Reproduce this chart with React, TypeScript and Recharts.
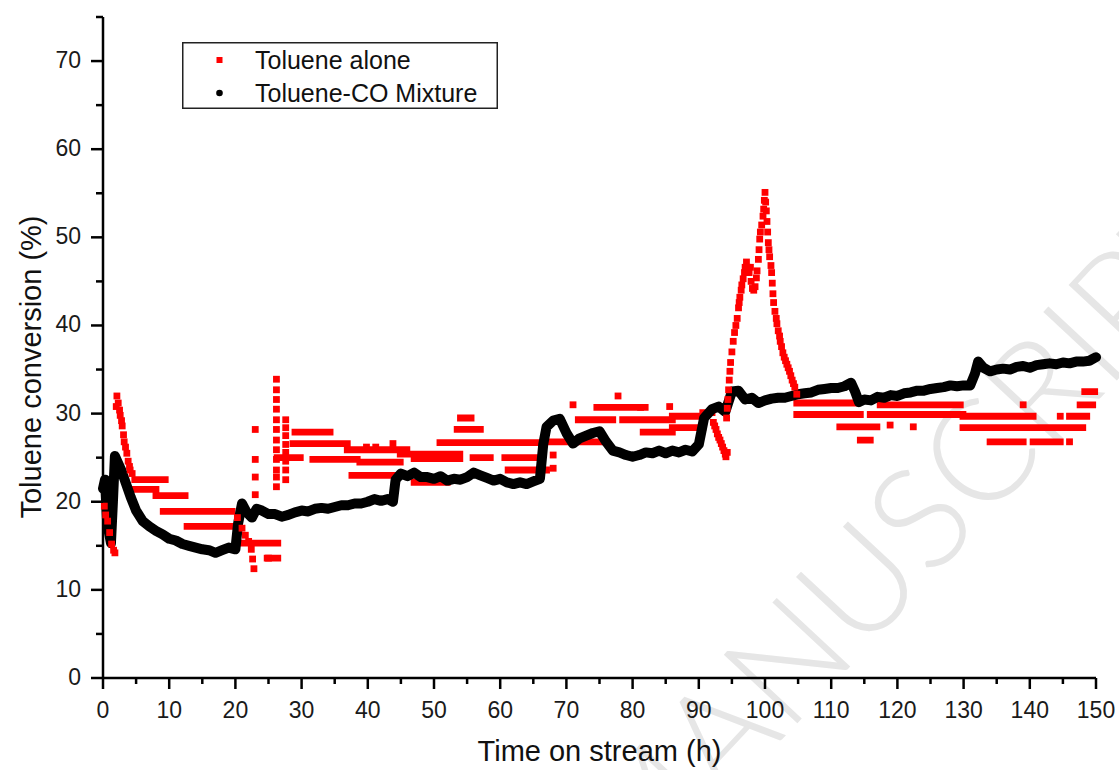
import React from "react";
import { ComposedChart, Line, Scatter, XAxis, YAxis, Legend } from "recharts";

const xTicks = [0, 5, 10, 15, 20, 25, 30, 35, 40, 45, 50, 55, 60, 65, 70, 75, 80, 85, 90, 95, 100, 105, 110, 115, 120, 125, 130, 135, 140, 145, 150];
const yTicks = [0, 5, 10, 15, 20, 25, 30, 35, 40, 45, 50, 55, 60, 65, 70, 75];

// Toluene-CO Mixture, [time h, conversion %]
const mixture: [number, number][] = [
  [0, 21.5], [0.3, 22.5], [0.6, 18], [0.9, 16.5], [1.2, 15.3], [1.5, 20], [1.8, 25.2],
  [2.2, 24.5], [2.8, 23.5], [3.5, 22], [4.2, 20.5], [5, 19], [6, 17.8], [7, 17.2],
  [8, 16.7], [9, 16.3], [10, 15.8], [11, 15.6], [12, 15.2], [13, 15.0], [14, 14.8],
  [15, 14.6], [16, 14.5], [17, 14.2], [18, 14.5], [19, 14.8], [20, 14.6], [20.4, 17.5],
  [21, 19.8], [21.7, 18.8], [22.5, 18.2], [23.2, 19.2], [24, 19.0], [25, 18.6], [26, 18.6],
  [27, 18.3], [28, 18.5], [29, 18.8], [30, 19.0], [31, 18.9], [32, 19.2], [33, 19.3],
  [34, 19.2], [35, 19.4], [36, 19.6], [37, 19.6], [38, 19.8], [39, 19.8], [40, 20.0],
  [41, 20.3], [42, 20.1], [43, 20.3], [43.8, 20.0], [44.2, 22.5], [45, 23.2], [46, 22.9],
  [47, 23.3], [48, 22.8], [49, 22.8], [50, 22.6], [51, 22.9], [52, 22.4], [53, 22.6],
  [54, 22.5], [55, 22.8], [56, 23.3], [57, 23.0], [58, 22.7], [59, 22.4], [60, 22.6],
  [61, 22.2], [62, 22.0], [63, 22.2], [64, 22.0], [65, 22.3], [66, 22.6], [66.5, 26.5],
  [67, 28.5], [68, 29.2], [69, 29.4], [70, 27.8], [71, 26.6], [72, 27.2], [73, 27.5],
  [74, 27.8], [75, 28.0], [76, 26.8], [77, 25.8], [78, 25.6], [79, 25.3], [80, 25.1],
  [81, 25.3], [82, 25.6], [83, 25.5], [84, 25.8], [85, 25.5], [86, 25.8], [87, 25.6],
  [88, 25.9], [89, 25.7], [90, 26.5], [90.8, 29.5], [92, 30.5], [93, 30.8], [94, 30.2],
  [95, 32.5], [96, 32.6], [97, 31.6], [98, 31.8], [99, 31.2], [100, 31.5], [101, 31.7],
  [102, 31.8], [103, 31.8], [104, 32.0], [105, 32.2], [106, 32.3], [107, 32.4], [108, 32.7],
  [109, 32.8], [110, 32.9], [111, 32.9], [112, 33.1], [113, 33.5], [113.6, 32.5], [114.2, 31.3],
  [115, 31.6], [116, 31.5], [117, 31.9], [118, 31.8], [119, 32.1], [120, 32.0], [121, 32.3],
  [122, 32.4], [123, 32.6], [124, 32.6], [125, 32.8], [126, 32.9], [127, 33.0], [128, 33.2],
  [129, 33.1], [130, 33.2], [131, 33.2], [131.7, 34.5], [132.2, 35.9], [133, 35.2], [134, 34.8],
  [135, 35.0], [136, 35.1], [137, 35.0], [138, 35.3], [139, 35.4], [140, 35.2], [141, 35.5],
  [142, 35.6], [143, 35.7], [144, 35.6], [145, 35.8], [146, 35.7], [147, 35.9], [148, 35.9],
  [149, 36.0], [150, 36.4],
];

// Toluene alone: runs of points sitting at one level, [from h, to h, conversion %]
const aloneRuns: [number, number, number][] = [
  [4.8, 9.4, 22.5], [4.4, 8.0, 21.4], [8.0, 12.4, 20.7], [9.1, 19.5, 18.9], [12.7, 20.0, 17.2],
  [21.0, 26.4, 15.3], [24.8, 26.4, 13.6], [26.3, 29.8, 25.0], [28.7, 36.9, 26.6], [29.0, 34.3, 27.9],
  [31.7, 38.4, 24.8], [36.9, 45.9, 25.9], [37.6, 44.0, 23.0], [38.8, 44.9, 24.5], [44.9, 53.9, 25.4],
  [47.0, 53.9, 24.9], [47.0, 52.0, 22.2], [50.9, 58.5, 26.7], [53.5, 57.0, 28.2], [54.0, 55.6, 29.5],
  [55.9, 58.5, 25.0], [54.7, 66.0, 26.7], [60.7, 66.0, 25.0], [61.2, 67.0, 23.6], [67.5, 76.0, 26.8],
  [71.8, 77.0, 29.3], [74.6, 81.9, 30.7], [78.5, 84.1, 29.3], [81.6, 86.0, 27.9], [86.0, 90.6, 28.4],
  [81.0, 86.0, 29.3], [86.0, 90.6, 29.7], [90.6, 92.0, 30.1], [104.8, 113.9, 31.2], [104.8, 114.4, 29.9],
  [111.3, 116.9, 28.5], [114.4, 115.9, 27.0], [115.9, 129.9, 29.9], [117.4, 129.5, 31.0], [129.9, 137.0, 29.7],
  [129.9, 148.0, 28.4], [134.0, 139.0, 26.8], [140.5, 144.6, 26.8], [138.0, 140.5, 29.7], [146.0, 148.6, 29.7],
  [147.6, 149.5, 31.0], [148.3, 149.8, 32.5],
];

// Toluene alone: single points (spikes and transitions), [time h, conversion %]
const alonePoints: [number, number][] = [
  [0.2, 19.5], [0.4, 18.5], [0.7, 17.8], [1.0, 16.5], [1.3, 15.2], [1.6, 14.5], [1.8, 14.2],
  [2.0, 30.8], [2.1, 32.0], [2.3, 31.2], [2.5, 30.4], [2.6, 29.8], [2.8, 29.2], [2.9, 28.6], [3.1, 27.6],
  [3.2, 26.8], [3.4, 26.2], [3.6, 25.5], [3.8, 24.6], [4.0, 24.0], [4.1, 23.6], [4.4, 23.2],
  [20.3, 18.2], [21.0, 17.0], [21.5, 16.2], [22.0, 15.5], [22.4, 14.6], [22.6, 13.5], [22.8, 12.4],
  [23.0, 20.8], [23.0, 22.8], [23.0, 24.8], [23.0, 28.2], [25.0, 13.6],
  [26.2, 33.9], [26.2, 32.7], [26.2, 31.6], [26.2, 30.5], [26.2, 29.3], [26.2, 28.2], [26.2, 27.0],
  [26.2, 25.9], [26.2, 24.8], [26.2, 23.6], [26.2, 22.8], [26.2, 21.7],
  [27.6, 29.3], [27.6, 28.4], [27.6, 27.5], [27.6, 26.5], [27.6, 25.6], [27.6, 24.6], [27.6, 23.6], [27.6, 22.5],
  [39.8, 26.2], [41.2, 26.2], [43.8, 26.6], [68.0, 25.3], [68.0, 23.8], [71.0, 31.0], [77.8, 32.0],
  [81.2, 30.7], [85.6, 30.8],
  [92.2, 29.0], [92.4, 28.6], [92.6, 28.2], [92.8, 27.7], [93.0, 27.3], [93.2, 27.0], [93.4, 26.6],
  [93.6, 26.2], [93.8, 25.8], [94.0, 25.4], [94.1, 25.1], [94.3, 25.6],
  [94.2, 29.5], [94.3, 30.6], [94.4, 31.6], [94.5, 32.7], [94.6, 33.8], [94.7, 34.8], [94.8, 35.8],
  [95.0, 37.0], [95.2, 38.2], [95.4, 39.2], [95.6, 40.0], [95.8, 40.8], [96.0, 42.0], [96.1, 42.6],
  [96.2, 43.2], [96.4, 44.0], [96.5, 44.6], [96.7, 45.3], [96.9, 46.0], [97.0, 46.6], [97.2, 47.2],
  [97.4, 46.6], [97.6, 46.0], [97.8, 46.6], [97.9, 45.0], [98.1, 44.2], [98.3, 44.0], [98.5, 44.4],
  [98.7, 45.4], [98.8, 46.2], [99.0, 47.5], [99.1, 48.6], [99.2, 49.8], [99.3, 50.6], [99.5, 51.4],
  [99.7, 52.4], [99.8, 53.2], [99.9, 54.2], [100.0, 55.1], [100.1, 54.0], [100.2, 53.0], [100.3, 51.8],
  [100.4, 50.6], [100.5, 49.4], [100.6, 48.6], [100.7, 47.8], [100.9, 46.8], [101.0, 46.0], [101.1, 44.8],
  [101.2, 43.6], [101.3, 42.6], [101.5, 41.6], [101.7, 40.8], [101.8, 40.2], [102.0, 39.4], [102.2, 38.8],
  [102.3, 38.2], [102.5, 37.6], [102.7, 36.9], [102.9, 36.4], [103.1, 36.0], [103.3, 35.6], [103.5, 35.2],
  [103.7, 34.8], [103.9, 34.3], [104.1, 33.8], [104.3, 33.4], [104.5, 33.0], [104.8, 32.2],
  [118.9, 28.7], [122.4, 28.5], [139.0, 31.0], [144.6, 29.7], [146.0, 26.8],
];

const legendItems = [
  { name: "Toluene alone", color: "#ff0000", marker: "square" },
  { name: "Toluene-CO Mixture", color: "#000000", marker: "circle" },
];

const font = "'Liberation Sans', Arial, sans-serif";

const mixtureData = mixture.map(([x, y]) => ({ x, y }));
const runData = aloneRuns.flatMap(([x1, x2, y]) => [
  { x: x1, y },
  { x: x2, y },
  { x: x2, y: null },
]);
const pointData = alonePoints.map(([x, y]) => ({ x, y }));

const XTick = ({ x, y, payload }: any) => {
  const major = payload.value % 10 === 0;
  return (
    <g>
      <line x1={x} y1={y} x2={x} y2={y + (major ? 11 : 6)} stroke="#000" strokeWidth={2.5} />
      {major && (
        <text x={x} y={y + 40} textAnchor="middle" fontSize={23} fontFamily={font} fill="#1a1a1a">
          {payload.value}
        </text>
      )}
    </g>
  );
};

const YTick = ({ x, y, payload }: any) => {
  const major = payload.value % 10 === 0;
  return (
    <g>
      <line x1={x - (major ? 12 : 7)} y1={y} x2={x} y2={y} stroke="#000" strokeWidth={2.5} />
      {major && (
        <text x={x - 22} y={y + 7} textAnchor="end" fontSize={23} fontFamily={font} fill="#1a1a1a">
          {payload.value}
        </text>
      )}
    </g>
  );
};

const SquareDot = ({ cx, cy }: any) => {
  if (cx == null || cy == null) return null;
  return <rect x={cx - 3.4} y={cy - 3.4} width={6.8} height={6.8} fill="#ff0000" />;
};

const LegendBox = () => (
  <svg width={316} height={67} style={{ display: "block" }}>
    <rect x={0.75} y={0.75} width={314.5} height={65.5} fill="#fff" stroke="#222" strokeWidth={1.5} />
    {legendItems.map((item, i) => (
      <g key={item.name}>
        {item.marker === "square" ? (
          <rect x={34.5} y={15 + i * 33} width={6} height={6} fill={item.color} />
        ) : (
          <circle cx={37.5} cy={18 + i * 33} r={3.3} fill={item.color} />
        )}
        <text x={73} y={26.5 + i * 33} fontSize={25} fontFamily={font} fill="#111">
          {item.name}
        </text>
      </g>
    ))}
  </svg>
);

const xTitle = (props: any) => {
  const vb = props.viewBox || {};
  const cx = (vb.x ?? 103) + (vb.width ?? 993) / 2;
  return (
    <text x={cx} y={761} textAnchor="middle" fontSize={29} fontFamily={font} fill="#111">
      Time on stream (h)
    </text>
  );
};

const yTitle = () => (
  <text
    transform="translate(41,367) rotate(-90)"
    textAnchor="middle"
    fontSize={29}
    fontFamily={font}
    fill="#111"
  >
    Toluene conversion (%)
  </text>
);

const App = () => {
  return (
    <div style={{ position: "absolute", left: 0, top: 0, width: 1119, height: 770, background: "#fff" }}>
      <svg width={1119} height={770} style={{ position: "absolute", left: 0, top: 0 }}>
        <text
          transform="translate(1244,244) rotate(-47)"
          textAnchor="end"
          fontSize={142}
          fontFamily="Lato, 'Open Sans', sans-serif"
          fontWeight={300}
          fill="#e6e6e6"
        >
          ACCEPTED MANUSCRIPT
        </text>
      </svg>
      <ComposedChart
        width={1119}
        height={770}
        margin={{ top: 17, right: 23, bottom: 0, left: 0 }}
      >
        <XAxis
          dataKey="x"
          type="number"
          domain={[0, 150]}
          ticks={xTicks}
          interval={0}
          tickSize={0}
          tickMargin={0}
          tickLine={false}
          tick={<XTick />}
          height={92}
          axisLine={{ stroke: "#000", strokeWidth: 2.5 }}
          label={xTitle}
        />
        <YAxis
          type="number"
          domain={[0, 75]}
          ticks={yTicks}
          interval={0}
          tickSize={0}
          tickMargin={0}
          tickLine={false}
          tick={<YTick />}
          width={103}
          axisLine={{ stroke: "#000", strokeWidth: 2.5 }}
          label={yTitle}
        />
        <Legend
          layout="vertical"
          align="center"
          verticalAlign="middle"
          content={<LegendBox />}
          wrapperStyle={{ left: 182, top: 42, width: 316, height: 67 }}
        />
        <Line
          data={runData}
          dataKey="y"
          name="Toluene alone"
          stroke="#ff0000"
          strokeWidth={6.8}
          strokeLinecap="square"
          dot={false}
          activeDot={false}
          connectNulls={false}
          isAnimationActive={false}
          legendType="none"
        />
        <Scatter
          data={pointData}
          dataKey="y"
          name="Toluene alone points"
          shape={<SquareDot />}
          isAnimationActive={false}
          legendType="none"
        />
        <Line
          data={mixtureData}
          dataKey="y"
          name="Toluene-CO Mixture"
          type="linear"
          stroke="#000"
          strokeWidth={10}
          strokeLinejoin="round"
          strokeLinecap="round"
          dot={false}
          activeDot={false}
          isAnimationActive={false}
        />
      </ComposedChart>
    </div>
  );
};

export default App;
